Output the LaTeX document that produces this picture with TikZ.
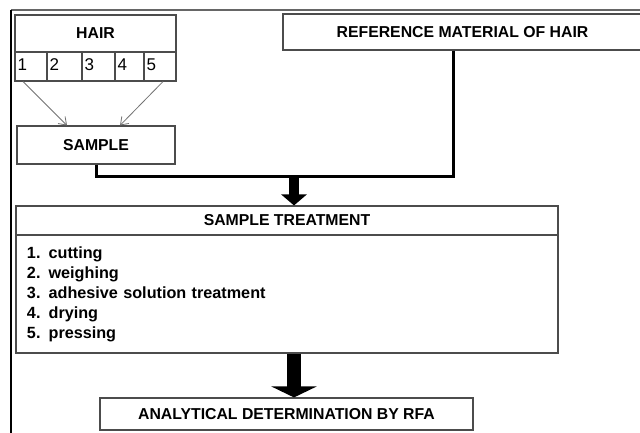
\documentclass[tikz,border=0pt]{standalone}
\usepackage{fontspec}
\setmainfont{Liberation Sans}
\usetikzlibrary{arrows.meta}

\begin{document}
\begin{tikzpicture}[x=1pt, y=-1pt,
    box/.style={draw=black!70, line width=1.1pt, inner sep=0pt,
        font=\fontsize{15.8}{18}\selectfont\bfseries},
    cell/.style={draw=black!70, line width=1.1pt, inner sep=0pt, minimum height=29pt},
    numtext/.style={font=\fontsize{17}{18}\selectfont, inner sep=3pt, yshift=2pt},
    feed/.style={line width=3pt},
    feeder/.style={draw=black!55, line width=0.8pt, -{Straight Barb[length=7pt,width=10pt]}}]
    \useasboundingbox (0,0) rectangle (640,432);
    \fill[white] (0,0) rectangle (640,432);
    \draw[black!60, line width=1.2pt] (645,10) -- (11,10);
    \draw[black, line width=1.2pt] (11,10) -- (11,440);

    \node[box, minimum width=161pt, minimum height=37pt] (hair) at (95.5,33.5) {HAIR};
    \foreach \i/\x/\w in {1/31/32, 2/64.5/35, 3/98.5/33, 4/129.5/29, 5/160/32}
        \node[cell, minimum width=\w pt, label={[numtext, anchor=west]west:\i}] (c\i) at (\x,66.5) {};

    \node[box, minimum width=158pt, minimum height=38pt] (sample) at (96,145) {SAMPLE};
    \node[box, minimum width=359pt, minimum height=36pt] (ref) at (462.5,32) {REFERENCE MATERIAL OF HAIR};

    \node[box, minimum width=542pt, minimum height=29pt] (treathead) at (287,220.5) {SAMPLE TREATMENT};
    \node[box, minimum width=542pt, minimum height=118pt, text width=520pt, align=left,
        font=\fontsize{16.2}{20}\selectfont\bfseries] (treatlist) at (287,294)
        {1. cutting\\ 2. weighing\\ 3. adhesive solution treatment\\ 4. drying\\ 5. pressing};
    \node[box, minimum width=373pt, minimum height=32pt] (rfa) at (286.5,414) {ANALYTICAL DETERMINATION BY RFA};

    \draw[feeder] ([xshift=-8pt]c1.south) -- ([xshift=-29pt]sample.north);
    \draw[feeder] ([xshift=3pt]c5.south) -- ([xshift=24pt]sample.north);

    \coordinate (merge) at (294,176);
    \draw[feed] (sample.south) |- (merge);
    \draw[feed] ([xshift=-9pt]ref.south) |- (merge);
    \draw[line width=10pt, -{Triangle[length=11pt,width=25pt]}] (merge) -- (merge |- treathead.north);
    \draw[line width=14pt, -{Triangle[length=11pt,width=45pt]}] (treatlist.south -| merge) -- (rfa.north -| merge);
\end{tikzpicture}
\end{document}
